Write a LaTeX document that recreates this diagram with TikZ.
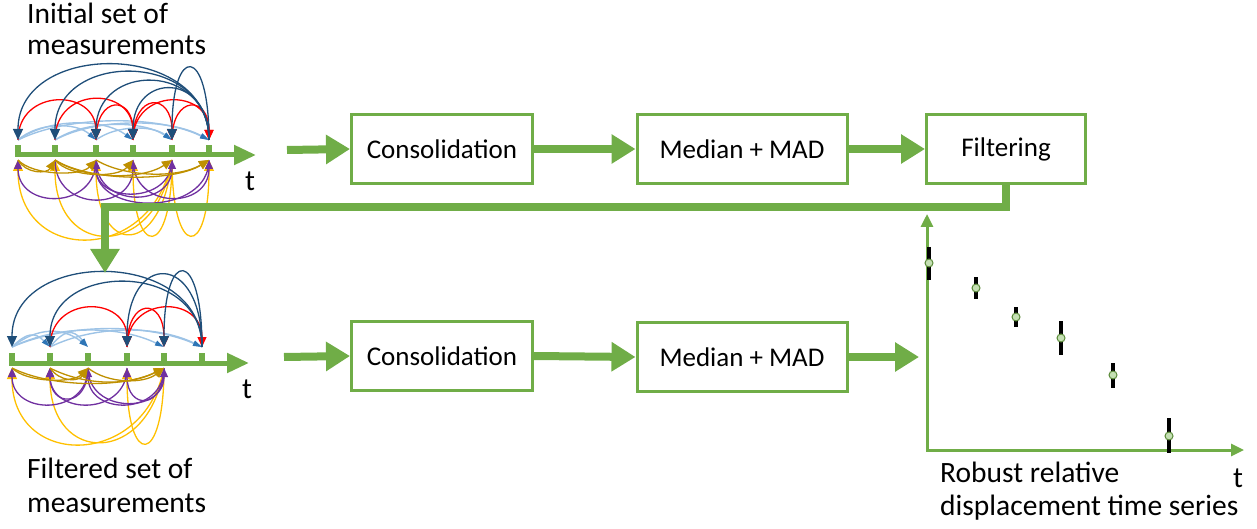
\documentclass[tikz,border=0pt]{standalone}
\usepackage{fontspec}
\setmainfont{Carlito}
\usetikzlibrary{arrows.meta}
\definecolor{gr}{HTML}{70AD47}
\definecolor{navy}{HTML}{1F4E79}
\definecolor{rd}{HTML}{FF0000}
\definecolor{lb}{HTML}{9DC3E6}
\definecolor{lbd}{HTML}{2E75B6}
\definecolor{pu}{HTML}{7030A0}
\definecolor{ye}{HTML}{FFC000}
\definecolor{ol}{HTML}{BF9000}
\definecolor{ptfill}{HTML}{C5E0B4}
\begin{document}
\begin{tikzpicture}[x=1pt,y=-1pt,
  box/.style={draw=gr,line width=3pt,minimum width=181pt,minimum height=69pt,inner sep=0pt,font=\fontsize{27}{32}\selectfont},
  flow/.style={draw=gr,line width=8pt,line join=miter,-{Triangle[length=24pt,width=28pt]}},
  tl/.style={font=\fontsize{29.5}{34}\selectfont,inner sep=0pt,anchor=base west},
  taxis/.style={draw=gr,line width=5pt,-{Triangle[length=22pt,width=19pt]}},
  paxis/.style={draw=gr,line width=3pt,line join=miter,{Triangle[length=13pt,width=12pt]}-{Triangle[length=13pt,width=12pt]}},
  navyarc/.style={draw=navy,line width=1.3pt,-{Triangle[length=11pt,width=10pt]}},
  redarc/.style={draw=rd,line width=1.3pt,-{Triangle[length=10pt,width=9pt]}},
  lbarc/.style={draw=lb,line width=1.4pt,-{Triangle[length=9pt,width=5pt,color=lbd]}},
  puarc/.style={draw=pu,line width=1.3pt,-{Triangle[length=9pt,width=8pt]}},
  olarc/.style={draw=ol,line width=1.3pt,-{Triangle[length=10pt,width=9pt]}},
  yearc/.style={draw=ye,line width=1.3pt,-{Triangle[length=11pt,width=10pt]}},
  errbar/.style={draw=black,line width=4pt},
  dpt/.style={circle,draw=gr!80!black,fill=ptfill,line width=1pt,inner sep=0pt,minimum size=8pt}
]
\useasboundingbox (0,0) rectangle (1257,529);

% ---------- top arc graph ----------
\foreach \i/\x in {1/18,2/55,3/96,4/133,5/172,6/209}{
  \coordinate (au\i) at (\x,140);
  \coordinate (al\i) at (\x,160);
}
\foreach \s/\e/\h/\d in {1/3/18/20,1/4/22/30,1/6/25/50,2/5/20/30,2/6/22/40,3/5/15/20}
  \draw[lbarc] (au\s) .. controls +(\d,-\h) and +(-\d,-\h) .. (au\e);
\foreach \s/\e/\h in {1/3/52,2/4/54,3/4/45,4/6/52,4/5/48,5/6/45}
  \draw[redarc] (au\s) .. controls +(0,-\h) and +(0,-\h) .. (au\e);
\foreach \s/\e/\h in {6/1/100,6/2/90,6/3/78,6/4/68,6/5/96}
  \draw[navyarc] (au\s) .. controls +(0,-\h) and +(0,-\h) .. (au\e);
\foreach \s/\e/\h/\d in {5/1/105/-20,5/2/100/-15,5/3/98/-10,5/4/100/0,5/6/100/0}
  \draw[yearc] (al\s) .. controls +(\d,\h) and +(0,\h) .. (al\e);
\foreach \s/\e/\h in {3/1/50,2/4/52,3/5/48,4/6/50,5/3/44,6/3/56}
  \draw[puarc] (al\s) .. controls +(0,\h) and +(0,\h) .. (al\e);
\foreach \s/\e/\h/\d in {1/3/16/15,2/4/18/15,2/6/22/35,3/6/18/30,2/5/20/30,1/2/14/8}
  \draw[olarc] (al\s) .. controls +(\d,\h) and +(-\d,\h) .. (al\e);
\coordinate (ta0) at (15,155);
\coordinate (ta1) at (256,155);
\draw[taxis] (ta0) -- (ta1);
\foreach \x in {18,55,96,133,172,209}
  \fill[gr] (\x-3,145) rectangle (\x+3,155);
\node[tl] (t1) at (245,191) {t};

% ---------- bottom arc graph ----------
\foreach \i/\x in {1/12,2/50,3/88,4/127,5/164,6/202}{
  \coordinate (bu\i) at (\x,347);
  \coordinate (bl\i) at (\x,368);
}
\foreach \s/\e/\h/\d in {1/2/15/15,1/3/20/25,1/5/22/45,1/6/24/55,2/6/22/45,2/3/18/15}
  \draw[lbarc] (bu\s) .. controls +(\d,-\h) and +(-\d,-\h) .. (bu\e);
\foreach \s/\e/\h in {2/4/52,4/5/50,4/6/52}
  \draw[redarc] (bu\s) .. controls +(0,-\h) and +(0,-\h) .. (bu\e);
\foreach \s/\e/\h in {6/1/99,6/2/86,6/4/96,6/5/100}
  \draw[navyarc] (bu\s) .. controls +(0,-\h) and +(0,-\h) .. (bu\e);
\foreach \s/\e/\h/\d in {5/1/101/-20,5/2/98/-15,5/4/100/0}
  \draw[yearc] (bl\s) .. controls +(\d,\h) and +(0,\h) .. (bl\e);
\foreach \s/\e/\h in {3/1/48,4/2/48,5/3/48,5/4/42,3/5/46,3/2/40}
  \draw[puarc] (bl\s) .. controls +(0,\h) and +(0,\h) .. (bl\e);
\foreach \s/\e/\h/\d in {1/3/15/15,2/3/14/10,2/5/18/35,1/5/20/40,3/5/16/20}
  \draw[olarc] (bl\s) .. controls +(\d,\h) and +(-\d,\h) .. (bl\e);
\coordinate (ba0) at (9,363);
\coordinate (ba1) at (249,363);
\draw[taxis] (ba0) -- (ba1);
\foreach \x in {12,50,88,127,164,202}
  \fill[gr] (\x-3,353) rectangle (\x+3,363);
\node[tl] (t2) at (242,398) {t};

% ---------- labels ----------
\node[tl] (init1) at (27,24) {Initial set of};
\node[tl] (init2) at (27,55) {measurements};
\node[tl] (filt1) at (27,478) {Filtered set of};
\node[tl] (filt2) at (27,512) {measurements};

% ---------- process boxes ----------
\node[box] (cons1) at (442,149) {Consolidation};
\node[box,minimum width=210pt] (med1) at (742,149) {Median + MAD};
\node[box,minimum width=159pt] (filt) at (1006,149) {Filtering};
\node[box] (cons2) at (442,356) {Consolidation};
\node[box,minimum width=210pt] (med2) at (742,357) {Median + MAD};

\coordinate (s1) at (287,150);
\coordinate (s2) at (284,357);
\coordinate (e3) at (919,357);
\draw[flow] (s1) -- (cons1.west);
\draw[flow] (cons1.east) -- (med1.west);
\draw[flow] (med1.east) -- (filt.west);
\draw[flow] (s2) -- (cons2.west);
\draw[flow] (cons2.east) -- (med2.west);
\draw[flow] (med2.east) -- (e3);

\coordinate (fbc) at (105,207);
\coordinate (fbe) at (105,273);
\draw[flow] (filt.south) |- (fbc) -- (fbe);

% ---------- plot ----------
\coordinate (py) at (927,214);
\coordinate (po) at (927,450);
\coordinate (px) at (1244,450);
\draw[paxis] (py) -- (po) -- (px);
\foreach \n/\x/\y/\a/\b in {1/929/263/247/280,2/976/288/277/299,3/1016/317/307/327,4/1061/338/321/355,5/1113/375/363/388,6/1169/436/418/453}{
  \draw[errbar] (\x,\a) -- (\x,\b);
  \node[dpt] (d\n) at (\x,\y) {};
}
\node[tl] (rob1) at (940,482) {Robust relative};
\node[tl] (rob2) at (940,515) {displacement time series};
\node[tl] (t3) at (1233,487) {t};
\end{tikzpicture}
\end{document}
